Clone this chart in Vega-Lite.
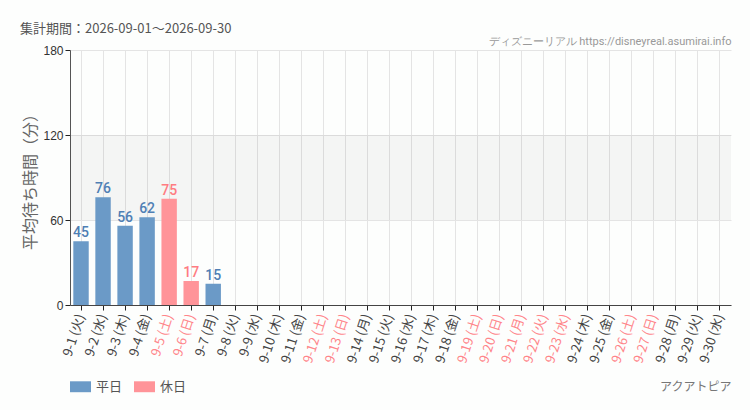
{
  "$schema": "https://vega.github.io/schema/vega-lite/v6.json",
  "autosize": "none",
  "padding": {"left": 70, "top": 50, "right": 19, "bottom": 105},
  "width": 661,
  "height": 255,
  "background": "#fdfefd",
  "title": {
    "text": "集計期間：2026-09-01～2026-09-30",
    "anchor": "start",
    "frame": "group",
    "dx": -50,
    "offset": -1,
    "font": "Noto Sans CJK JP",
    "fontSize": 13,
    "fontWeight": "normal",
    "color": "#555555"
  },
  "data": {
    "values": [
      {"day": "9-1 (火)", "value": 45, "type": "平日"},
      {"day": "9-2 (水)", "value": 76, "type": "平日"},
      {"day": "9-3 (木)", "value": 56, "type": "平日"},
      {"day": "9-4 (金)", "value": 62, "type": "平日"},
      {"day": "9-5 (土)", "value": 75, "type": "休日"},
      {"day": "9-6 (日)", "value": 17, "type": "休日"},
      {"day": "9-7 (月)", "value": 15, "type": "平日"},
      {"day": "9-8 (火)", "value": null, "type": "平日"},
      {"day": "9-9 (水)", "value": null, "type": "平日"},
      {"day": "9-10 (木)", "value": null, "type": "平日"},
      {"day": "9-11 (金)", "value": null, "type": "平日"},
      {"day": "9-12 (土)", "value": null, "type": "休日"},
      {"day": "9-13 (日)", "value": null, "type": "休日"},
      {"day": "9-14 (月)", "value": null, "type": "平日"},
      {"day": "9-15 (火)", "value": null, "type": "平日"},
      {"day": "9-16 (水)", "value": null, "type": "平日"},
      {"day": "9-17 (木)", "value": null, "type": "平日"},
      {"day": "9-18 (金)", "value": null, "type": "平日"},
      {"day": "9-19 (土)", "value": null, "type": "休日"},
      {"day": "9-20 (日)", "value": null, "type": "休日"},
      {"day": "9-21 (月)", "value": null, "type": "休日"},
      {"day": "9-22 (火)", "value": null, "type": "休日"},
      {"day": "9-23 (水)", "value": null, "type": "休日"},
      {"day": "9-24 (木)", "value": null, "type": "平日"},
      {"day": "9-25 (金)", "value": null, "type": "平日"},
      {"day": "9-26 (土)", "value": null, "type": "休日"},
      {"day": "9-27 (日)", "value": null, "type": "休日"},
      {"day": "9-28 (月)", "value": null, "type": "平日"},
      {"day": "9-29 (火)", "value": null, "type": "平日"},
      {"day": "9-30 (水)", "value": null, "type": "平日"}
    ]
  },
  "resolve": {"axis": {"x": "independent"}},
  "layer": [
    {
      "data": {"values": [{"from": 60, "to": 120}]},
      "mark": {"type": "rect", "color": "#000000", "opacity": 0.035},
      "encoding": {
        "y": {"field": "from", "type": "quantitative"},
        "y2": {"field": "to"}
      }
    },
    {
      "mark": {"type": "bar", "opacity": 1},
      "encoding": {
        "x": {
          "field": "day",
          "type": "ordinal",
          "sort": null,
          "scale": {
            "domain": ["9-1 (火)", "9-2 (水)", "9-3 (木)", "9-4 (金)", "9-5 (土)", "9-6 (日)", "9-7 (月)", "9-8 (火)", "9-9 (水)", "9-10 (木)", "9-11 (金)", "9-12 (土)", "9-13 (日)", "9-14 (月)", "9-15 (火)", "9-16 (水)", "9-17 (木)", "9-18 (金)", "9-19 (土)", "9-20 (日)", "9-21 (月)", "9-22 (火)", "9-23 (水)", "9-24 (木)", "9-25 (金)", "9-26 (土)", "9-27 (日)", "9-28 (月)", "9-29 (火)", "9-30 (水)"],
            "paddingInner": 0.3,
            "paddingOuter": 0.15
          },
          "axis": {
            "title": "アクアトピア",
            "titleFont": "Noto Sans CJK JP",
            "titleFontSize": 12,
            "titleFontWeight": "normal",
            "titleColor": "#777777",
            "titleAnchor": "end",
            "titleAlign": "right",
            "titleBaseline": "middle",
            "titleX": 661,
            "titleY": 81,
            "labelAngle": -72,
            "labelFont": "Noto Sans CJK JP",
            "labelFontSize": 13,
            "labelPadding": 4,
            "labelColor": {
              "condition": {
                "test": "indexof(['9-5 (土)','9-6 (日)','9-12 (土)','9-13 (日)','9-19 (土)','9-20 (日)','9-21 (月)','9-22 (火)','9-23 (水)','9-26 (土)','9-27 (日)'], datum.value) >= 0",
                "value": "#ff858a"
              },
              "value": "#444444"
            },
            "tickColor": "#222222",
            "tickSize": 5,
            "domainColor": "#444444",
            "grid": true,
            "gridColor": "#e4e4e4"
          }
        },
        "y": {
          "field": "value",
          "type": "quantitative",
          "scale": {"domain": [0, 180]},
          "axis": {
            "title": "平均待ち時間（分）",
            "titleFont": "Noto Sans CJK JP",
            "titleFontSize": 16,
            "titleFontWeight": "normal",
            "titleColor": "#666666",
            "titlePadding": 4,
            "values": [0, 60, 120, 180],
            "labelFont": "Liberation Sans",
            "labelFontSize": 12,
            "labelColor": "#333333",
            "labelPadding": 2,
            "tickColor": "#222222",
            "tickSize": 5,
            "domainColor": "#555555",
            "gridColor": "#e4e4e4"
          }
        },
        "color": {
          "field": "type",
          "type": "nominal",
          "scale": {"domain": ["平日", "休日"], "range": ["#6b9ac7", "#ff9499"]},
          "legend": {
            "title": null,
            "orient": "none",
            "direction": "horizontal",
            "legendX": 0,
            "legendY": 326,
            "symbolType": "M-1,-0.52H1V0.52H-1Z",
            "symbolSize": 441,
            "symbolStrokeWidth": 0,
            "symbolOpacity": 1,
            "labelFont": "Noto Sans CJK JP",
            "labelFontSize": 13,
            "labelColor": "#555555",
            "labelOffset": 5,
            "columnPadding": 11
          }
        }
      }
    },
    {
      "transform": [{"filter": "isValid(datum.value)"}],
      "mark": {
        "type": "text",
        "baseline": "alphabetic",
        "dy": -4,
        "font": "Roboto",
        "fontSize": 14,
        "fontWeight": 500
      },
      "encoding": {
        "x": {
          "field": "day",
          "type": "ordinal",
          "sort": null,
          "axis": {
            "orient": "top",
            "title": "ディズニーリアル https://disneyreal.asumirai.info",
            "titleFont": "Roboto",
            "titleFontSize": 11,
            "titleFontWeight": "normal",
            "titleColor": "#999999",
            "titleAnchor": "end",
            "titleAlign": "right",
            "titleBaseline": "alphabetic",
            "titleX": 661,
            "titleY": -6,
            "labels": false,
            "ticks": false,
            "domain": false,
            "grid": false
          }
        },
        "y": {"field": "value", "type": "quantitative"},
        "text": {"field": "value", "type": "quantitative"},
        "color": {
          "condition": {"test": "datum.type === '休日'", "value": "#ff7c82"},
          "value": "#4f7fb4"
        }
      }
    }
  ],
  "config": {
    "view": {"stroke": null},
    "axis": {"gridColor": "#e4e4e4"}
  }
}
